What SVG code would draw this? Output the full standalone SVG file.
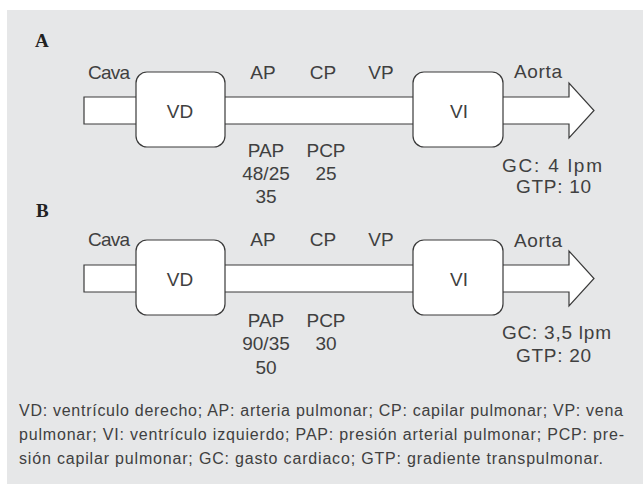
<svg xmlns="http://www.w3.org/2000/svg" width="643" height="484" viewBox="0 0 643 484">
  <style>
    .bg { fill: #e6e7e8; }
    .shape { fill: #ffffff; stroke: #3a3a3a; stroke-width: 1.2; }
    .lbl { font-family: "Liberation Sans", Arial, sans-serif; font-size: 19px; fill: #404040; }
    .mid { text-anchor: middle; }
    .head { font-family: "Liberation Serif", "Times New Roman", serif; font-size: 19px; font-weight: bold; fill: #222222; }
    .cap { font-family: "Liberation Sans", Arial, sans-serif; font-size: 16px; fill: #404040; }
  </style>
  <rect class="bg" x="7" y="10" width="636" height="474"/>

  <g id="connectors">
    <path id="arrow-A" class="shape" d="M84,97 H569 V83 L594,110.5 L569,138 V124 H84 Z"/>
    <path id="arrow-B" class="shape" d="M84,265 H569 V251 L594,278.5 L569,306 V292 H84 Z"/>
  </g>

  <!-- Panel A -->
  <g id="panel-A-title"><text class="head" x="35" y="47">A</text></g>
  <g id="node-VD-A">
    <rect class="shape" x="136" y="72" width="89" height="75" rx="11"/>
    <text class="lbl mid" x="180" y="118">VD</text>
  </g>
  <g id="node-VI-A">
    <rect class="shape" x="413" y="72" width="90" height="75" rx="11"/>
    <text class="lbl mid" x="459" y="118">VI</text>
  </g>
  <g id="labels-A">
    <text class="lbl" x="88" y="79" textLength="42">Cava</text>
    <text class="lbl mid" x="263" y="79">AP</text>
    <text class="lbl mid" x="323" y="79">CP</text>
    <text class="lbl mid" x="381" y="79">VP</text>
    <text class="lbl" x="514" y="78" textLength="48">Aorta</text>
    <text class="lbl mid" x="266" y="157">PAP</text>
    <text class="lbl mid" x="266" y="180">48/25</text>
    <text class="lbl mid" x="266" y="203">35</text>
    <text class="lbl mid" x="326" y="157">PCP</text>
    <text class="lbl mid" x="326" y="180">25</text>
    <text class="lbl" x="502" y="172" textLength="100">GC: 4 lpm</text>
    <text class="lbl" x="516" y="193" textLength="75">GTP: 10</text>
  </g>

  <!-- Panel B -->
  <g id="panel-B-title"><text class="head" x="36" y="217">B</text></g>
  <g id="node-VD-B">
    <rect class="shape" x="136" y="240" width="89" height="75" rx="11"/>
    <text class="lbl mid" x="180" y="286">VD</text>
  </g>
  <g id="node-VI-B">
    <rect class="shape" x="413" y="240" width="90" height="75" rx="11"/>
    <text class="lbl mid" x="459" y="286">VI</text>
  </g>
  <g id="labels-B">
    <text class="lbl" x="88" y="246" textLength="42">Cava</text>
    <text class="lbl mid" x="263" y="246">AP</text>
    <text class="lbl mid" x="323" y="246">CP</text>
    <text class="lbl mid" x="381" y="246">VP</text>
    <text class="lbl" x="514" y="247" textLength="48">Aorta</text>
    <text class="lbl mid" x="266" y="327">PAP</text>
    <text class="lbl mid" x="266" y="350">90/35</text>
    <text class="lbl mid" x="266" y="374">50</text>
    <text class="lbl mid" x="326" y="327">PCP</text>
    <text class="lbl mid" x="326" y="350">30</text>
    <text class="lbl" x="502" y="339" textLength="109">GC: 3,5 lpm</text>
    <text class="lbl" x="516" y="362" textLength="75">GTP: 20</text>
  </g>

  <g id="caption">
    <text class="cap" x="19" y="416" textLength="604">VD: ventrículo derecho; AP: arteria pulmonar; CP: capilar pulmonar; VP: vena</text>
    <text class="cap" x="19" y="440" textLength="605">pulmonar; VI: ventrículo izquierdo; PAP: presión arterial pulmonar; PCP: pre-</text>
    <text class="cap" x="19" y="464" textLength="584">sión capilar pulmonar; GC: gasto cardiaco; GTP: gradiente transpulmonar.</text>
  </g>
</svg>
